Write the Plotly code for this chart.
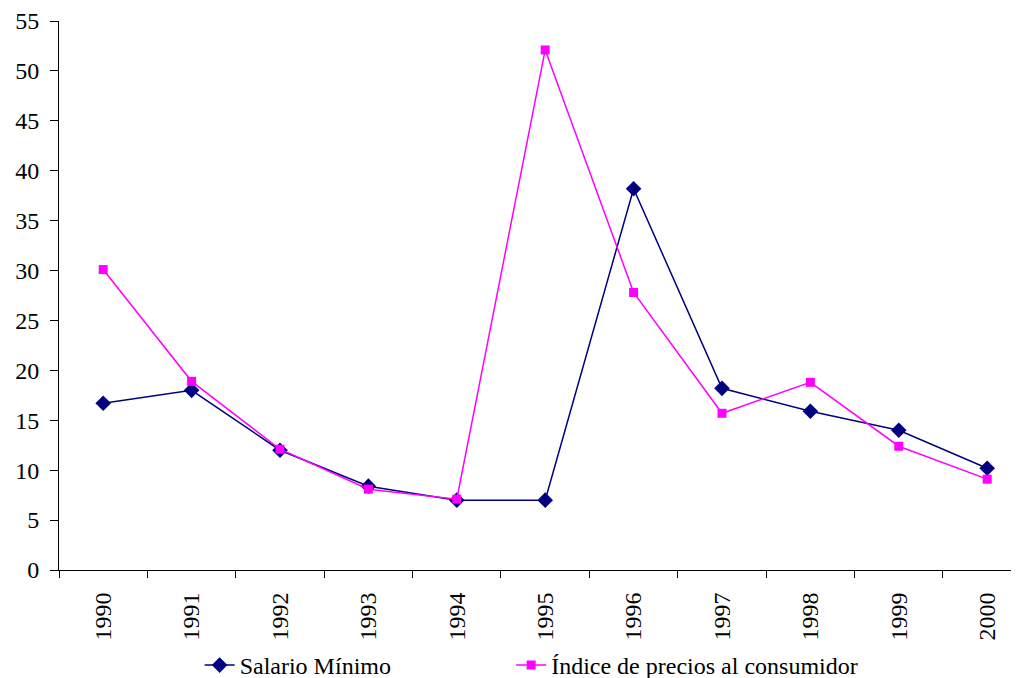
import plotly.graph_objects as go

years = ["1990", "1991", "1992", "1993", "1994", "1995", "1996", "1997", "1998", "1999", "2000"]
salario_minimo = [16.7, 18.0, 12.0, 8.4, 7.0, 7.0, 38.2, 18.2, 15.9, 14.0, 10.2]
ipc = [30.1, 18.9, 12.1, 8.1, 7.1, 52.1, 27.8, 15.7, 18.8, 12.4, 9.1]
y_ticks = [0, 5, 10, 15, 20, 25, 30, 35, 40, 45, 50, 55]

FONT = "Liberation Serif, Times New Roman, serif"

fig = go.Figure()
fig.add_trace(go.Scatter(
    x=years, y=salario_minimo, name="Salario Mínimo", mode="lines+markers",
    line=dict(color="#000080", width=1.5),
    marker=dict(symbol="diamond", size=12, color="#000080"),
    legend="legend",
))
fig.add_trace(go.Scatter(
    x=years, y=ipc, name="Índice de precios al consumidor", mode="lines+markers",
    line=dict(color="#FF00FF", width=1.5),
    marker=dict(symbol="square", size=9, color="#FF00FF"),
    legend="legend2",
))

legend_common = dict(
    orientation="h", yanchor="top", y=-0.133, xanchor="left",
    font=dict(family=FONT, size=24, color="black"),
    bgcolor="rgba(0,0,0,0)",
)

# page body has an 8px margin: figure occupies screen x 8..1019, y 8..678
fig.update_layout(
    width=1011, height=670,
    margin=dict(l=51, r=0, t=13, b=108, autoexpand=False),
    paper_bgcolor="white", plot_bgcolor="white",
    font=dict(family=FONT, size=24, color="black"),
    showlegend=True,
    legend=dict(x=0.1465, **legend_common),
    legend2=dict(x=0.471, **legend_common),
)
fig.update_xaxes(
    type="category", range=[-0.5, 10.36], automargin=False,
    showline=True, linecolor="black", linewidth=1,
    ticks="outside", tickson="boundaries", ticklen=7, tickcolor="black",
    tickangle=-90, showgrid=False, zeroline=False, ticklabelstandoff=12,
    tickfont=dict(family=FONT, size=24),
)
fig.update_yaxes(
    range=[0, 55], tickvals=y_ticks, automargin=False,
    showline=True, linecolor="black", linewidth=1,
    ticks="outside", ticklen=8, tickcolor="black",
    showgrid=False, zeroline=False, ticklabelstandoff=6,
    tickfont=dict(family=FONT, size=24),
)

fig.write_html("out.html")
